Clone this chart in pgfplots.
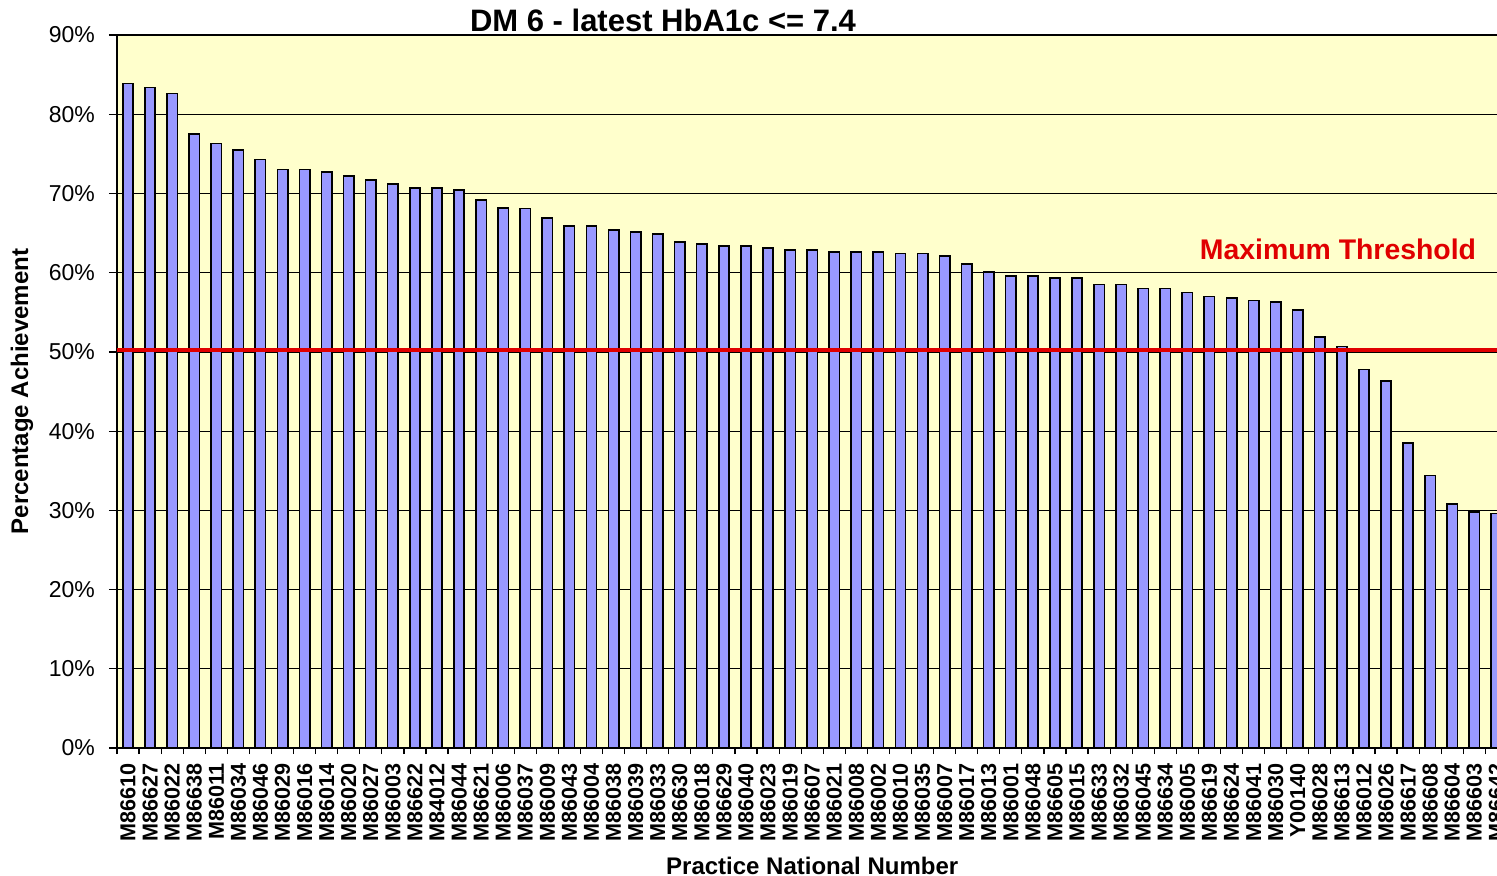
\documentclass[border=0pt]{standalone}
\usepackage{fontspec}
\setmainfont{Liberation Sans}
\usepackage{pgfplots}
\pgfplotsset{compat=1.18}
\definecolor{bg}{RGB}{255,255,204}
\definecolor{barfill}{RGB}{153,153,255}
\definecolor{thr}{RGB}{224,0,0}
\begin{document}
\begin{tikzpicture}
\begin{axis}[
  at={(58.5pt,63.5pt)}, anchor=south west,
  scale only axis, width=695.2pt, height=356.5pt,
  xmin=-0.5, xmax=62.5, ymin=0, ymax=90,
  axis background/.style={fill=bg},
  ytick={0,10,...,90},
  yticklabel={\pgfmathprintnumber{\tick}\%},
  /pgf/number format/assume math mode=true,
  ymajorgrids, grid style={black, line width=0.6pt},
  axis line style={black, line width=0.8pt},
  tick align=outside, xtick pos=bottom, ytick pos=left,
  major tick length=4pt, minor tick length=3pt,
  tick style={black, line width=0.6pt},
  major x tick style={draw=none},
  xtick={0,...,62},
  minor xtick={-0.5,0.5,...,62.5},
  xticklabels={M86610,M86627,M86022,M86638,M86011,M86034,M86046,M86029,M86016,M86014,M86020,M86027,M86003,M86622,M84012,M86044,M86621,M86006,M86037,M86009,M86043,M86004,M86038,M86039,M86033,M86630,M86018,M86629,M86040,M86023,M86019,M86607,M86021,M86008,M86002,M86010,M86035,M86007,M86017,M86013,M86001,M86048,M86605,M86015,M86633,M86032,M86045,M86634,M86005,M86619,M86624,M86041,M86030,Y00140,M86028,M86613,M86012,M86026,M86617,M86608,M86604,M86603,M86642},
  xticklabel style={rotate=90, anchor=east, font=\bfseries\fontsize{10.8}{13}\selectfont},
  yticklabel style={font=\fontsize{11.5}{14}\selectfont, xshift=-3.5pt},
  xlabel={Practice National Number},
  xlabel style={at={(axis description cs:0.5,-0.1655)}, anchor=center, font=\bfseries\fontsize{12}{14}\selectfont},
  ylabel={Percentage Achievement},
  ylabel style={at={(axis description cs:-0.0683,0.5)}, anchor=center, font=\bfseries\fontsize{12}{14}\selectfont},
]
\addplot[ybar, bar width=0.47, fill=barfill, draw=black, line width=0.8pt] coordinates {
(0,83.9) (1,83.4) (2,82.6) (3,77.5) (4,76.3) (5,75.5) (6,74.3) (7,73.0) (8,73.0) (9,72.7)
(10,72.2) (11,71.7) (12,71.2) (13,70.7) (14,70.7) (15,70.4) (16,69.2) (17,68.2) (18,68.1) (19,66.9)
(20,65.9) (21,65.9) (22,65.4) (23,65.1) (24,64.9) (25,63.9) (26,63.6) (27,63.4) (28,63.4) (29,63.1)
(30,62.9) (31,62.9) (32,62.6) (33,62.6) (34,62.6) (35,62.4) (36,62.4) (37,62.1) (38,61.1) (39,60.1)
(40,59.6) (41,59.6) (42,59.3) (43,59.3) (44,58.5) (45,58.5) (46,58.0) (47,58.0) (48,57.5) (49,57.0)
(50,56.8) (51,56.5) (52,56.3) (53,55.3) (54,51.9) (55,50.7) (56,47.8) (57,46.3) (58,38.5) (59,34.4)
(60,30.8) (61,29.8) (62,29.6)
};
\addplot[thr, line width=2pt, forget plot] coordinates {(-0.5,50.3) (62.5,50.3)};
\node[anchor=east, text=thr, font=\bfseries\fontsize{14.2}{17}\selectfont] at (axis cs:61.4,62.9) {Maximum Threshold};
\end{axis}
\node[anchor=base, font=\bfseries\fontsize{15.5}{18}\selectfont] at (331.5pt,421.5pt) {DM 6 - latest HbA1c <= 7.4};
\pgfresetboundingbox
\useasboundingbox (0,0) rectangle (748.5pt,437.5pt);
\end{tikzpicture}
\end{document}
